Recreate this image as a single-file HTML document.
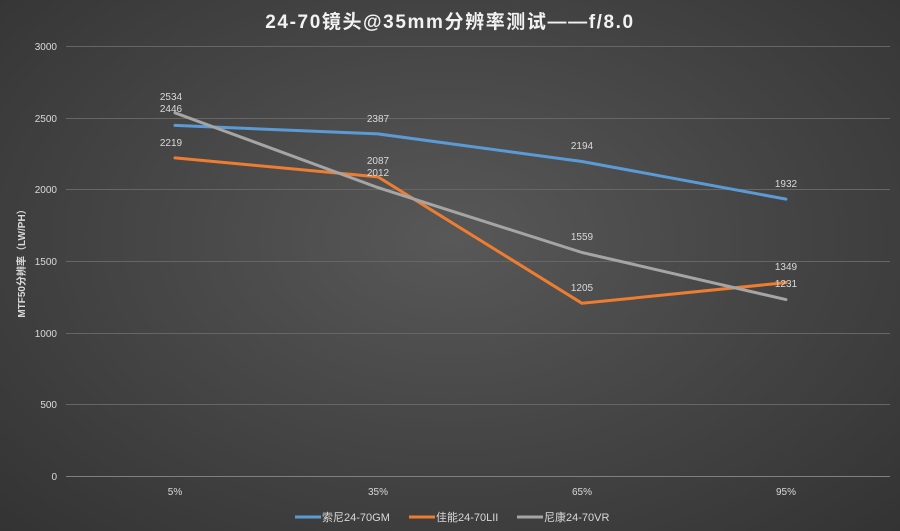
<!DOCTYPE html>
<html><head><meta charset="utf-8"><style>
html,body{margin:0;padding:0;}
body{width:900px;height:531px;overflow:hidden;background:radial-gradient(ellipse at 50% 45%,#585858 0%,#474747 45%,#333 100%);font-family:"Liberation Sans","Noto Sans CJK SC",sans-serif;}
</style></head><body>
<svg width="900" height="531" xmlns="http://www.w3.org/2000/svg" style="position:absolute;left:0;top:0" font-family="Liberation Sans, Noto Sans CJK SC, sans-serif">
<text x="450" y="28" text-anchor="middle" fill="#f2f2f2" font-size="19" font-weight="bold" letter-spacing="1.6">24-70镜头@35mm分辨率测试——f/8.0</text>
<g stroke="#666" stroke-width="1">
<line x1="66" x2="890" y1="46.5" y2="46.5"/>
<line x1="66" x2="890" y1="118.5" y2="118.5"/>
<line x1="66" x2="890" y1="189.5" y2="189.5"/>
<line x1="66" x2="890" y1="261.5" y2="261.5"/>
<line x1="66" x2="890" y1="333.5" y2="333.5"/>
<line x1="66" x2="890" y1="404.5" y2="404.5"/>
<line x1="66" x2="890" y1="476.5" y2="476.5" stroke="#808080"/>
</g>
<g fill="#d9d9d9" font-size="10" text-anchor="end">
<text x="57" y="50">3000</text><text x="57" y="122">2500</text><text x="57" y="193">2000</text>
<text x="57" y="265">1500</text><text x="57" y="337">1000</text><text x="57" y="408">500</text><text x="57" y="480">0</text>
</g>
<g fill="#d9d9d9" font-size="10" text-anchor="middle">
<text x="175" y="495">5%</text><text x="378" y="495">35%</text><text x="582" y="495">65%</text><text x="786" y="495">95%</text>
</g>
<text transform="translate(25,261) rotate(-90)" text-anchor="middle" fill="#d9d9d9" font-size="10" font-weight="bold">MTF50分辨率（LW/PH）</text>
<g fill="none" stroke-width="3" stroke-linejoin="round" stroke-linecap="round">
<polyline stroke="#5b9bd5" points="175,125.4 378,133.9 582,161.5 786,199.1"/>
<polyline stroke="#ed7d31" points="175,157.9 378,176.9 582,303.3 786,282.6"/>
<polyline stroke="#a5a5a5" points="175,112.8 378,187.6 582,252.5 786,299.6"/>
</g>
<g fill="#d9d9d9" font-size="10" text-anchor="middle">
<text x="171" y="100">2534</text><text x="171" y="112">2446</text><text x="171" y="146">2219</text>
<text x="378" y="122">2387</text><text x="378" y="164">2087</text><text x="378" y="176">2012</text>
<text x="582" y="149">2194</text><text x="582" y="240">1559</text><text x="582" y="291">1205</text>
<text x="786" y="187">1932</text><text x="786" y="270">1349</text><text x="786" y="287">1231</text>
</g>
<g stroke-width="3">
<line x1="295" x2="321" y1="517" y2="517" stroke="#5b9bd5"/>
<line x1="409" x2="435" y1="517" y2="517" stroke="#ed7d31"/>
<line x1="517" x2="543" y1="517" y2="517" stroke="#a5a5a5"/>
</g>
<g fill="#d9d9d9" font-size="11">
<text x="322" y="521">索尼24-70GM</text>
<text x="436" y="521">佳能24-70LII</text>
<text x="544" y="521">尼康24-70VR</text>
</g>
</svg>
</body></html>
